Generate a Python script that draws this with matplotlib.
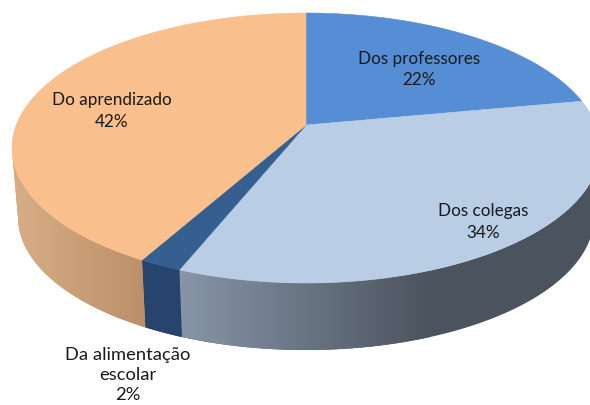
import numpy as np
import matplotlib.pyplot as plt
from matplotlib.colors import LinearSegmentedColormap
from matplotlib.patches import Polygon

categories = ["Dos professores", "Dos colegas", "Da alimentação\nescolar", "Do aprendizado"]
values = [22, 34, 2, 42]
top_colors = ["#558ed5", "#b9cde5", "#355f91", "#f9bf8d"]
# cor da parede: esquerda -> direita, e o intervalo de x do degrade
wall_colors = [
    ("#4b545e", "#4b545e", 0, 590),
    ("#8895a8", "#4b545e", 180, 430),
    ("#27446d", "#27446d", 140, 190),
    ("#d8ae86", "#bb9069", 12, 147),
]
label_pos = [(419, 69.5), (483, 222), (128, 375), (112, 111)]
label_size = [12.3, 12.3, 13.2, 12.3]

plt.rcParams["font.family"] = ["Lato", "DejaVu Sans"]

# elipses em pixels da imagem
cx, cy, rx, ry = 306, 148, 294, 135
bx, by, brx, bry = 306, 217, 288, 133
p = 0.17  # deslocamento do centro pela perspectiva


def rim_param(theta):
    # angulo real na pizza -> angulo na elipse (perspectiva)
    s, c = np.sin(theta), np.cos(theta)
    x = np.sqrt(1 - p**2) * s / (1 + p * c)
    y = (c + p) / (1 + p * c)
    return np.mod(np.arctan2(x, y), 2 * np.pi)


def top_xy(psi):
    return cx + rx * np.sin(psi), cy - ry * np.cos(psi)


def bottom_xy(psi):
    return bx + brx * np.sin(psi), by - bry * np.cos(psi)


fig = plt.figure(figsize=(5.9, 4.05), dpi=100)
ax = fig.add_axes([0, 0, 1, 1])
ax.set_xlim(0, 590)
ax.set_ylim(405, 0)
ax.axis("off")

apex_x, apex_y = top_xy(0)[0], cy - ry * p
edges = np.cumsum([0] + values) / sum(values) * 2 * np.pi
gx = np.linspace(0, 1, 256)

for i in range(len(values)):
    t1, t2 = edges[i], edges[i + 1]
    ts = np.linspace(t1, t2, 200)
    psi = np.unwrap(rim_param(ts))

    # parede lateral, so a parte da frente
    front = psi[(psi >= np.pi / 2) & (psi <= 3 * np.pi / 2)]
    if len(front) > 1:
        tx, ty = top_xy(front)
        ux, uy = bottom_xy(front)
        pts = np.column_stack([np.r_[tx, ux[::-1]], np.r_[ty, uy[::-1]]])
        left, right, x0, x1 = wall_colors[i]
        cmap = LinearSegmentedColormap.from_list("w", [left, right])
        im = ax.imshow(gx[None, :], extent=(x0, x1, 405, 0), cmap=cmap, aspect="auto", zorder=1)
        # fora do degrade continua a cor da ponta
        ax.add_patch(Polygon(pts, closed=True, fc=right, ec="none", zorder=0.5))
        clip = Polygon(pts, closed=True, transform=ax.transData)
        im.set_clip_path(clip)

    # face de cima
    px, py = top_xy(psi)
    pts = np.column_stack([np.r_[apex_x, px], np.r_[apex_y, py]])
    ax.add_patch(Polygon(pts, closed=True, fc=top_colors[i], ec=top_colors[i], lw=0.4, zorder=2))

ax.set_xlim(0, 590)
ax.set_ylim(405, 0)

for name, v, (lx, ly), fs in zip(categories, values, label_pos, label_size):
    ax.text(lx, ly, f"{name}\n{v}%", ha="center", va="center", fontsize=fs,
            color="#1a1a1a", linespacing=1.42 * 12.3 / fs, zorder=3)

fig.savefig("out.png", dpi=100)
